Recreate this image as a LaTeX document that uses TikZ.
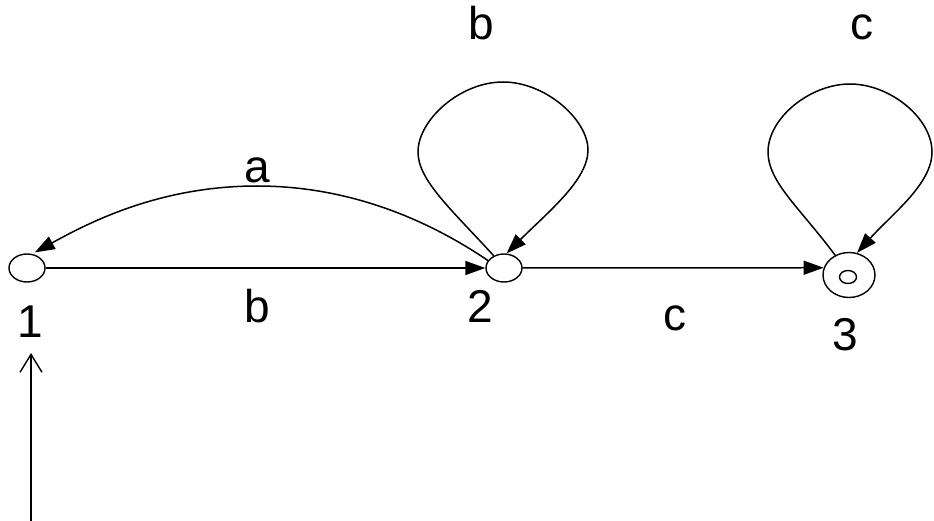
\documentclass[tikz,border=0pt]{standalone}
\usepackage{fontspec}
\setmainfont{Liberation Sans}
\usetikzlibrary{arrows.meta,shapes.geometric}
\begin{document}
\begin{tikzpicture}[x=1pt,y=-1pt,
  state/.style={ellipse,draw,line width=1.4pt,minimum width=36pt,minimum height=28pt,inner sep=0pt},
  edge/.style={line width=1.5pt,-{Triangle[length=20pt,width=14pt]}},
  lbl/.style={font=\fontsize{46}{46}\selectfont,anchor=base,inner sep=0pt}]
\useasboundingbox (0,0) rectangle (934,521);
\node[state] (1) at (27,268) {};
\node[state] (2) at (504,268) {};
\node[state,minimum width=52pt,minimum height=45pt] (3) at (849,275) {};
\node[state,minimum width=17pt,minimum height=13pt] (3in) at (848,277) {};
% labels
\node[lbl] (l1) at (30,337) {1};
\node[lbl] (l2) at (480,322) {2};
\node[lbl] (l3) at (845,350) {3};
\node[lbl] (lb) at (257,322) {b};
\node[lbl] (lc) at (675,330) {c};
\node[lbl] (la) at (257,183) {a};
\node[lbl] (lb2) at (481,40) {b};
\node[lbl] (lc2) at (862,40) {c};
% edges
\draw[edge] (1.east) -- (2.west);
\draw[edge] (2.east) -- (3.164);
\draw[edge,shorten >=3pt] (2.155) .. controls (440,228) and (360,186) .. (257,186) .. controls (160,186) and (90,222) .. (1.70);
\draw[edge] (2.130) .. controls (450,208) and (418,180) .. (418,152) .. controls (418,120) and (460,82) .. (503,82) .. controls (546,82) and (588,120) .. (588,150) .. controls (588,180) and (548,212) .. (2.80);
\draw[edge] (3.125) .. controls (800,208) and (768,182) .. (768,152) .. controls (768,118) and (810,84) .. (850,84) .. controls (890,84) and (932,118) .. (932,152) .. controls (932,184) and (892,214) .. (3.70);
% initial arrow
\coordinate (init) at (31,521);
\coordinate (inittip) at (31,353);
\draw[line width=1.4pt,-{Straight Barb[length=18pt,width=22pt]}] (init) -- (inittip);
\end{tikzpicture}
\end{document}
